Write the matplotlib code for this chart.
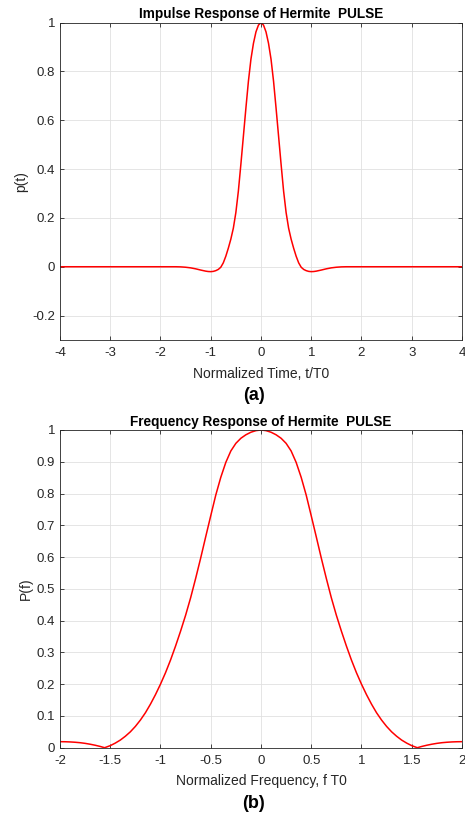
import numpy as np
import matplotlib
matplotlib.use("Agg")
import matplotlib.pyplot as plt
from matplotlib.ticker import FormatStrFormatter

plt.rcParams['font.family'] = ['Liberation Sans', 'DejaVu Sans']

# impulse response p(t)
t_vals = [-4.0, -2.0, -1.7, -1.6, -1.5, -1.4, -1.3, -1.2, -1.1, -1.05, -1.0,
          -0.95, -0.9, -0.85, -0.8, -0.75, -0.7, -0.65, -0.6, -0.55, -0.5,
          -0.45, -0.4, -0.35, -0.3, -0.25, -0.2, -0.15, -0.1, -0.05, 0.0,
          0.05, 0.1, 0.15, 0.2, 0.25, 0.3, 0.35, 0.4, 0.45, 0.5,
          0.55, 0.6, 0.65, 0.7, 0.75, 0.8, 0.85, 0.9, 0.95, 1.0,
          1.05, 1.1, 1.2, 1.3, 1.4, 1.5, 1.6, 1.7, 2.0, 4.0]
p_vals = [0.0, 0.0, 0.0, -0.0005, -0.002, -0.0045, -0.0085, -0.0135, -0.018, -0.0195, -0.02,
          -0.019, -0.016, -0.011, -0.002, 0.016, 0.043, 0.076, 0.113, 0.158, 0.222,
          0.31, 0.42, 0.535, 0.65, 0.76, 0.85, 0.915, 0.962, 0.99, 1.0,
          0.99, 0.962, 0.915, 0.85, 0.76, 0.65, 0.535, 0.42, 0.31, 0.222,
          0.158, 0.113, 0.076, 0.043, 0.016, -0.002, -0.011, -0.016, -0.019, -0.02,
          -0.0195, -0.018, -0.0135, -0.0085, -0.0045, -0.002, -0.0005, 0.0, 0.0, 0.0]

# frequency response P(f)
f_vals = [-2.0, -1.95, -1.9, -1.85, -1.8, -1.75, -1.7, -1.65, -1.6, -1.556,
          -1.5, -1.45, -1.4, -1.35, -1.3, -1.25, -1.2, -1.15, -1.1, -1.05,
          -1.0, -0.95, -0.9, -0.85, -0.8, -0.75, -0.7, -0.65, -0.6, -0.55,
          -0.5, -0.45, -0.4, -0.35, -0.3, -0.25, -0.2, -0.15, -0.1, -0.05, 0.0,
          0.05, 0.1, 0.15, 0.2, 0.25, 0.3, 0.35, 0.4, 0.45, 0.5,
          0.55, 0.6, 0.65, 0.7, 0.75, 0.8, 0.85, 0.9, 0.95, 1.0,
          1.05, 1.1, 1.15, 1.2, 1.25, 1.3, 1.35, 1.4, 1.45, 1.5,
          1.556, 1.6, 1.65, 1.7, 1.75, 1.8, 1.85, 1.9, 1.95, 2.0]
P_vals = [0.019, 0.0188, 0.0182, 0.0172, 0.0158, 0.0137, 0.011, 0.0078, 0.004, 0.0,
          0.0065, 0.0145, 0.024, 0.036, 0.05, 0.067, 0.087, 0.11, 0.137, 0.167,
          0.2, 0.236, 0.276, 0.32, 0.367, 0.417, 0.472, 0.533, 0.597, 0.664,
          0.73, 0.795, 0.851, 0.898, 0.934, 0.958, 0.974, 0.985, 0.993, 0.998, 1.0,
          0.998, 0.993, 0.985, 0.974, 0.958, 0.934, 0.898, 0.851, 0.795, 0.73,
          0.664, 0.597, 0.533, 0.472, 0.417, 0.367, 0.32, 0.276, 0.236, 0.2,
          0.167, 0.137, 0.11, 0.087, 0.067, 0.05, 0.036, 0.024, 0.0145, 0.0065,
          0.0, 0.004, 0.0078, 0.011, 0.0137, 0.0158, 0.0172, 0.0182, 0.0188, 0.019]

t_ticks = [-4, -3, -2, -1, 0, 1, 2, 3, 4]
p_ticks = [-0.2, 0, 0.2, 0.4, 0.6, 0.8, 1]
f_ticks = [-2, -1.5, -1, -0.5, 0, 0.5, 1, 1.5, 2]
P_ticks = [0, 0.1, 0.2, 0.3, 0.4, 0.5, 0.6, 0.7, 0.8, 0.9, 1]

axcol = '#262626'


def style(ax):
    ax.grid(True, color='#e0e0e0', linewidth=0.6)
    ax.set_axisbelow(True)
    for s in ax.spines.values():
        s.set_color(axcol)
        s.set_linewidth(0.6)
    ax.tick_params(direction='in', length=3, width=0.6, colors=axcol, labelsize=9.5,
                   top=True, right=True)
    ax.tick_params(axis='x', pad=5)
    ax.tick_params(axis='y', pad=3.5)
    ax.xaxis.set_major_formatter(FormatStrFormatter('%g'))
    ax.yaxis.set_major_formatter(FormatStrFormatter('%g'))


fig = plt.figure(figsize=(4.65, 8.13), dpi=100)

ax1 = fig.add_axes([0.129, 0.5818, 0.8645, 0.3904])
ax1.plot(t_vals, p_vals, color='red', linewidth=1.1)
ax1.set_xlim(-4, 4)
ax1.set_ylim(-0.3, 1)
ax1.set_xticks(t_ticks)
ax1.set_yticks(p_ticks)
style(ax1)
ax1.set_title('Impulse Response of Hermite  PULSE', fontsize=9.8, fontweight='bold', pad=3)
ax1.set_xlabel('Normalized Time, t/T0', fontsize=10, color=axcol, labelpad=5.5)
ax1.set_ylabel('p(t)', fontsize=10, color=axcol, labelpad=3)

ax2 = fig.add_axes([0.129, 0.0803, 0.8645, 0.3908])
ax2.plot(f_vals, P_vals, color='red', linewidth=1.1)
ax2.set_xlim(-2, 2)
ax2.set_ylim(0, 1)
ax2.set_xticks(f_ticks)
ax2.set_yticks(P_ticks)
style(ax2)
ax2.set_title('Frequency Response of Hermite  PULSE', fontsize=9.8, fontweight='bold', pad=3)
ax2.set_xlabel('Normalized Frequency, f T0', fontsize=10, color=axcol, labelpad=5.5)
ax2.set_ylabel('P(f)', fontsize=10, color=axcol, labelpad=3)

fig.text(253.5 / 465, 1 - 395 / 813, '(a)', fontsize=13, fontweight='bold', ha='center', va='center')
fig.text(253.5 / 465, 1 - 803 / 813, '(b)', fontsize=13, fontweight='bold', ha='center', va='center')

fig.savefig('out.png', dpi=100)
